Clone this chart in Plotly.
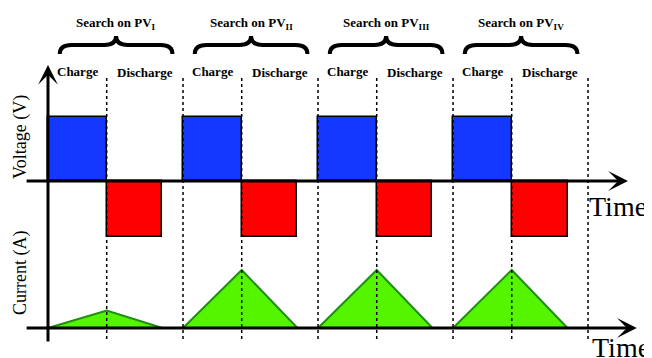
import plotly.graph_objects as go

# data: one search cycle per PV string
cycle_labels = ["I", "II", "III", "IV"]
cycle_start = [0.0, 2.3, 4.6, 6.9]      # time units
charge_dur = [1.0, 1.0, 1.0, 1.0]
discharge_dur = [0.95, 0.95, 0.95, 0.95]
cycle_len = 2.3
charge_voltage = [1.0, 1.0, 1.0, 1.0]
discharge_level = [-0.875, -0.875, -0.875, -0.875]
peak_current = [0.3, 1.0, 1.0, 1.0]

W, H = 652, 358
OFF = 8   # marge du body de la page html
FONT = "Liberation Serif"

fig = go.Figure()

# tension pendant la charge (bleu) et niveau pendant la décharge (rouge)
for s, c, d, v, r in zip(cycle_start, charge_dur, discharge_dur, charge_voltage, discharge_level):
    fig.add_trace(go.Bar(x=[s + c / 2], y=[v], width=[c], yaxis="y",
                         marker=dict(color="#1438ff", line=dict(color="black", width=1.5))))
    fig.add_trace(go.Bar(x=[s + c + d / 2], y=[r], width=[d], yaxis="y",
                         marker=dict(color="#ff0000", line=dict(color="black", width=1.5))))

# courant : triangles
for s, c, d, p in zip(cycle_start, charge_dur, discharge_dur, peak_current):
    fig.add_trace(go.Scatter(x=[s, s + c, s + c + d, s], y=[0, p, 0, 0], yaxis="y2",
                             mode="lines", fill="toself", fillcolor="#55f500",
                             line=dict(color="#1e9010", width=2)))


def py(p):  # ligne pixel -> y paper
    return 1 - (p - OFF) / H


def px(p):  # colonne pixel -> x paper
    return (p - OFF) / W


# dashed separators
seps = []
for s, c in zip(cycle_start, charge_dur):
    if s > 0:
        seps.append(s)
    seps.append(s + c)
seps.append(cycle_start[-1] + cycle_len)
for xv in seps:
    fig.add_shape(type="line", xref="x", yref="paper", x0=xv, x1=xv,
                  y0=py(339), y1=py(77), line=dict(color="black", width=1.5, dash="dot"))

txt = dict(showarrow=False, xanchor="center", yanchor="middle")

# accolades + textes
for lab, s, c in zip(cycle_labels, cycle_start, charge_dur):
    x0, x1 = s + 0.2, s + 2.12
    xm = (x0 + x1) / 2
    d = 0.2
    ye, yf, yt = py(54), py(45), py(36)
    path = (f"M{x0},{ye} Q{x0},{yf} {x0 + d},{yf} L{xm - d},{yf} Q{xm},{yf} {xm},{yt} "
            f"Q{xm},{yf} {xm + d},{yf} L{x1 - d},{yf} Q{x1},{yf} {x1},{ye}")
    fig.add_shape(type="path", path=path, xref="x", yref="paper",
                  line=dict(color="black", width=4))
    fig.add_annotation(x=xm, y=py(24), xref="x", yref="paper",
                       text=f"<b>Search on PV<sub>{lab}</sub></b>",
                       font=dict(family=FONT, size=13, color="black"), **txt)
    fig.add_annotation(x=s + c / 2, y=py(71), xref="x", yref="paper",
                       text="<b>Charge</b>", font=dict(family=FONT, size=13, color="black"), **txt)
    fig.add_annotation(x=(s + c + s + cycle_len) / 2, y=py(72), xref="x", yref="paper",
                       text="<b>Discharge</b>",
                       font=dict(family=FONT, size=13, color="black"), **txt)

# axes fléchés
arrow = dict(showarrow=True, arrowhead=3, arrowwidth=3, arrowsize=1.1,
             arrowcolor="black", text="", standoff=0)
fig.add_annotation(x=9.88, y=0, ax=-0.39, ay=0, xref="x", yref="y",
                   axref="x", ayref="y", **arrow)
fig.add_annotation(x=10.03, y=0, ax=-0.39, ay=0, xref="x", yref="y2",
                   axref="x", ayref="y2", **arrow)
fig.add_annotation(x=0, y=py(65), ax=0, ay=py(343), xref="x", yref="y domain",
                   axref="x", ayref="y domain", **arrow)

fig.add_annotation(x=px(618), y=py(206), xref="paper", yref="paper",
                   text="Time", font=dict(family=FONT, size=28, color="black"), **txt)
fig.add_annotation(x=px(621), y=py(347), xref="paper", yref="paper",
                   text="Time", font=dict(family=FONT, size=28, color="black"), **txt)
fig.add_annotation(x=px(20), y=py(137), xref="paper", yref="paper",
                   text="Voltage (V)", textangle=-90,
                   font=dict(family=FONT, size=18, color="black"), **txt)
fig.add_annotation(x=px(20), y=py(273), xref="paper", yref="paper",
                   text="Current (A)", textangle=-90,
                   font=dict(family=FONT, size=18, color="black"), **txt)

px_per_t = 58.7
x_left = -(48 - OFF) / px_per_t
fig.update_layout(
    width=W, height=H, margin=dict(l=0, r=0, t=0, b=0),
    plot_bgcolor="white", paper_bgcolor="white", showlegend=False,
    barmode="overlay", bargap=0,
    xaxis=dict(range=[x_left, x_left + W / px_per_t], visible=False),
    yaxis=dict(range=[(181 - OFF - H) / 64, (181 - OFF) / 64], visible=False),
    yaxis2=dict(range=[(328 - OFF - H) / 58, (328 - OFF) / 58], visible=False, overlaying="y"),
)

fig.write_html("out.html")
